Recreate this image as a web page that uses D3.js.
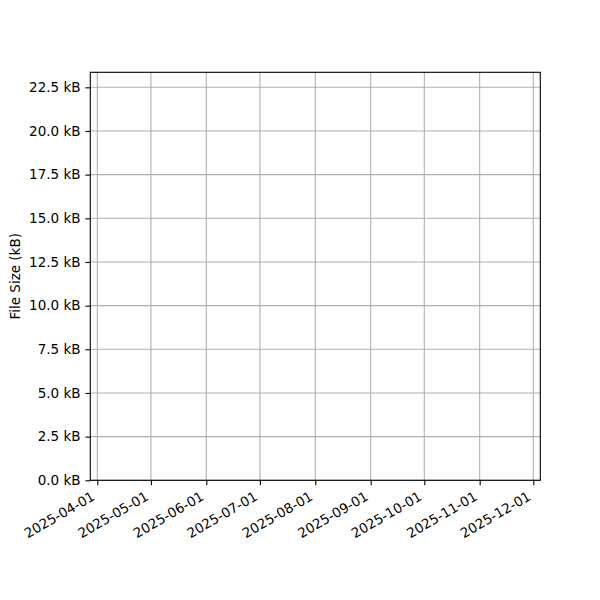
<!DOCTYPE html>
<html>
<head>
<meta charset="utf-8">
<script src="https://cdn.jsdelivr.net/npm/d3@7"></script>
<style>
  body { margin: 0; background: #fff; }
  text { font-family: "DejaVu Sans", sans-serif; fill: #000; }
</style>
</head>
<body>
<div id="chart"></div>
<script>
// data: the reference plot is empty, no points drawn
var dates = [];
var sizes = [];
var yTicks = [0, 2.5, 5, 7.5, 10, 12.5, 15, 17.5, 20, 22.5];
var xTicks = ['2025-04-01', '2025-05-01', '2025-06-01', '2025-07-01', '2025-08-01',
	'2025-09-01', '2025-10-01', '2025-11-01', '2025-12-01'];
var xDomain = ['2025-03-28T02:00', '2025-12-04T22:00'];
var yDomain = [0, 23.36];

var width = 600, height = 600;
var margin = {left: 90.3, right: 59.7, top: 72.3, bottom: 119.7};
var fontSize = 13.5;

var parse = d3.isoParse;
var fmt = d3.timeFormat('%Y-%m-%d');

var svg = d3.select('#chart').append('svg').attr('width', width).attr('height', height);

var x = d3.scaleTime().domain(xDomain.map(parse)).range([margin.left, width - margin.right]);
var y = d3.scaleLinear().domain(yDomain).range([height - margin.bottom, margin.top]);

//grid lines
var grid = svg.append('g').attr('stroke', '#b0b0b0').attr('stroke-width', 1.1);
grid.selectAll('.gx').data(xTicks).enter().append('line')
	.attr('x1', function(d) { return x(parse(d)); })
	.attr('x2', function(d) { return x(parse(d)); })
	.attr('y1', margin.top).attr('y2', height - margin.bottom);
grid.selectAll('.gy').data(yTicks).enter().append('line')
	.attr('y1', function(d) { return y(d); })
	.attr('y2', function(d) { return y(d); })
	.attr('x1', margin.left).attr('x2', width - margin.right);

//data line (empty)
var line = d3.line()
	.x(function(d, i) { return x(parse(dates[i])); })
	.y(function(d) { return y(d); });
svg.append('path').datum(sizes).attr('d', line)
	.attr('fill', 'none').attr('stroke', '#1f77b4').attr('stroke-width', 2);

//axes
var xAxis = svg.append('g')
	.attr('transform', 'translate(0,' + (height - margin.bottom) + ')')
	.call(d3.axisBottom(x).tickValues(xTicks.map(parse)).tickFormat(fmt).tickSizeOuter(0).tickSize(4.9).tickPadding(4.9));
xAxis.select('.domain').remove();
xAxis.selectAll('line').attr('stroke-width', 1.1);
xAxis.selectAll('text')
	.attr('font-size', fontSize)
	.attr('text-anchor', 'end')
	.attr('dy', 0)
	.attr('y', 0)
	.attr('transform', 'translate(-2,' + (9.8 + 0.866 * 10.5) + ') rotate(-30)');

var yAxis = svg.append('g')
	.attr('transform', 'translate(' + margin.left + ',0)')
	.call(d3.axisLeft(y).tickValues(yTicks).tickFormat(function(d) { return d3.format('.1f')(d) + ' kB'; })
		.tickSizeOuter(0).tickSize(4.9).tickPadding(4.9));
yAxis.select('.domain').remove();
yAxis.selectAll('line').attr('stroke-width', 1.1);
yAxis.selectAll('text').attr('font-size', fontSize).attr('font-family', '"DejaVu Sans", sans-serif');
xAxis.selectAll('text').attr('font-family', '"DejaVu Sans", sans-serif');

//frame
svg.append('rect')
	.attr('x', margin.left).attr('y', margin.top)
	.attr('width', width - margin.left - margin.right)
	.attr('height', height - margin.top - margin.bottom)
	.attr('fill', 'none').attr('stroke', '#000').attr('stroke-width', 1.1);

svg.append('text')
	.attr('transform', 'translate(20,' + ((margin.top + height - margin.bottom) / 2) + ') rotate(-90)')
	.attr('text-anchor', 'middle')
	.attr('font-size', fontSize)
	.text('File Size (kB)');
</script>
</body>
</html>
